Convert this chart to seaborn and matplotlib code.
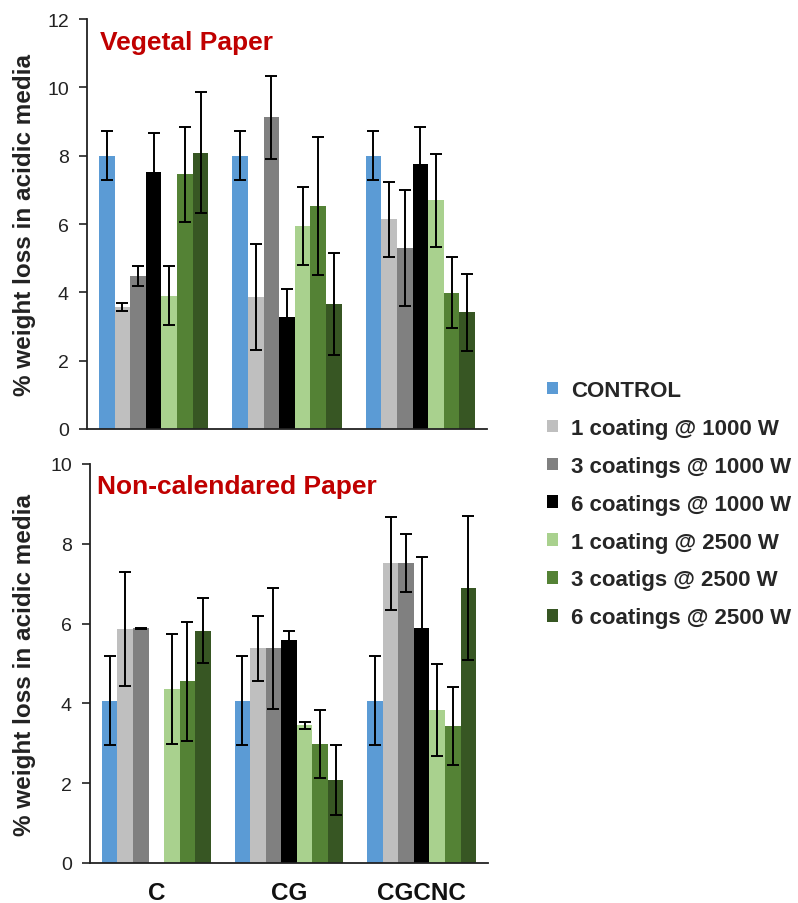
import numpy as np
import pandas as pd
import matplotlib
matplotlib.use("Agg")
import matplotlib.pyplot as plt
from matplotlib.patches import Patch
from matplotlib.container import BarContainer
import seaborn as sns

# ---------------- data ----------------
categories = ["C", "CG", "CGCNC"]
series = ["CONTROL", "1 coating @ 1000 W", "3 coatings @ 1000 W", "6 coatings @ 1000 W",
          "1 coating @ 2500 W", "3 coatigs @ 2500 W", "6 coatings @ 2500 W"]
colors = ["#5B9BD5", "#BFBFBF", "#808080", "#000000", "#A9D18E", "#548235", "#375623"]

# Vegetal Paper (top)
veg_control = [8.00, 8.00, 8.00]
veg_c1_1000 = [3.56, 3.87, 6.14]
veg_c3_1000 = [4.48, 9.12, 5.30]
veg_c6_1000 = [7.51, 3.27, 7.75]
veg_c1_2500 = [3.90, 5.94, 6.69]
veg_c3_2500 = [7.45, 6.54, 3.99]
veg_c6_2500 = [8.09, 3.65, 3.41]
veg_control_err = [0.72, 0.72, 0.72]
veg_c1_1000_err = [0.12, 1.55, 1.10]
veg_c3_1000_err = [0.28, 1.22, 1.70]
veg_c6_1000_err = [1.15, 0.84, 1.09]
veg_c1_2500_err = [0.87, 1.14, 1.35]
veg_c3_2500_err = [1.40, 2.02, 1.04]
veg_c6_2500_err = [1.78, 1.49, 1.13]

# Non-calendared Paper (bottom)
nc_control = [4.07, 4.07, 4.07]
nc_c1_1000 = [5.87, 5.38, 7.51]
nc_c3_1000 = [5.88, 5.38, 7.51]
nc_c6_1000 = [np.nan, 5.59, 5.88]
nc_c1_2500 = [4.36, 3.45, 3.84]
nc_c3_2500 = [4.55, 2.98, 3.43]
nc_c6_2500 = [5.82, 2.08, 6.90]
nc_control_err = [1.11, 1.11, 1.11]
nc_c1_1000_err = [1.43, 0.81, 1.17]
nc_c3_1000_err = [0.01, 1.52, 0.73]
nc_c6_1000_err = [np.nan, 0.23, 1.79]
nc_c1_2500_err = [1.38, 0.08, 1.16]
nc_c3_2500_err = [1.50, 0.85, 0.97]
nc_c6_2500_err = [0.81, 0.88, 1.80]

veg_vals = [veg_control, veg_c1_1000, veg_c3_1000, veg_c6_1000, veg_c1_2500, veg_c3_2500, veg_c6_2500]
veg_errs = [veg_control_err, veg_c1_1000_err, veg_c3_1000_err, veg_c6_1000_err,
            veg_c1_2500_err, veg_c3_2500_err, veg_c6_2500_err]
nc_vals = [nc_control, nc_c1_1000, nc_c3_1000, nc_c6_1000, nc_c1_2500, nc_c3_2500, nc_c6_2500]
nc_errs = [nc_control_err, nc_c1_1000_err, nc_c3_1000_err, nc_c6_1000_err,
           nc_c1_2500_err, nc_c3_2500_err, nc_c6_2500_err]


def long_df(vals, errs):
    rows = []
    for s, v, e in zip(series, vals, errs):
        for c, vv, ee in zip(categories, v, e):
            rows.append({"cat": c, "series": s, "val": vv, "err": ee})
    return pd.DataFrame(rows)


# ---------------- style ----------------
sns.set_theme(style="white")
plt.rcParams["font.family"] = ["Liberation Sans", "DejaVu Sans"]

fig = plt.figure(figsize=(7.98, 9.04), dpi=100)
W, H = 798, 904
ax1 = fig.add_axes([87 / W, 1 - 430 / H, 400 / W, 410 / H])
ax2 = fig.add_axes([90 / W, 1 - 864 / H, 398 / W, 399 / H])

palette = dict(zip(series, colors))


def draw(ax, vals, errs, ymax, title, tx, show_x):
    df = long_df(vals, errs)
    sns.barplot(data=df, x="cat", y="val", hue="series", order=categories,
                hue_order=series, palette=palette, width=0.82, gap=0,
                errorbar=None, legend=False, ax=ax, linewidth=0, saturation=1)
    bar_conts = [c for c in ax.containers if isinstance(c, BarContainer)]
    col_rgb = [np.array(matplotlib.colors.to_rgb(c)) for c in colors]
    for cont in bar_conts:
        bars = [b for b in cont if np.isfinite(b.get_height())]
        if not bars:
            continue
        fc = np.array(bars[0].get_facecolor()[:3])
        si = int(np.argmin([np.abs(fc - cr).sum() for cr in col_rgb]))
        s = series[si]
        for bar in bars:
            h = bar.get_height()
            xc = bar.get_x() + bar.get_width() / 2
            ci = int(round(xc))
            e = df[(df.series == s) & (df.cat == categories[ci])]["err"].values[0]
            if np.isfinite(e):
                ax.errorbar(xc, h, yerr=e, fmt="none", ecolor="black",
                            elinewidth=1.4, capsize=4, capthick=1.4, zorder=5)
    ax.set_xlim(-0.5, 2.5)
    ax.set_ylim(0, ymax)
    ax.set_yticks(np.arange(0, ymax + 0.1, 2))
    ax.set_ylabel("% weight loss in acidic media", fontsize=17.5, fontweight="bold",
                  color="#222222")
    ax.set_xlabel("")
    for sp in ["top", "right"]:
        ax.spines[sp].set_visible(False)
    for sp in ["left", "bottom"]:
        ax.spines[sp].set_color("#222222")
        ax.spines[sp].set_linewidth(1.3)
    ax.tick_params(axis="y", left=True, length=6, width=1.2, color="#222222",
                   labelsize=14, pad=7, labelcolor="#222222")
    if show_x:
        ax.tick_params(axis="x", bottom=False, length=0, pad=13, labelsize=17.5)
        for t in ax.get_xticklabels():
            t.set_fontweight("bold")
            t.set_color("#111111")
    else:
        ax.tick_params(axis="x", bottom=False, labelbottom=False)
    ax.text(tx, 0.945, title, transform=ax.transAxes, color="#C00000",
            fontsize=19, fontweight="bold", va="center", ha="left")


draw(ax1, veg_vals, veg_errs, 12, "Vegetal Paper", 0.033, False)
draw(ax2, nc_vals, nc_errs, 10, "Non-calendared Paper", 0.018, True)
ax1.yaxis.set_label_coords(-0.127, 0.5)
ax2.yaxis.set_label_coords(-0.135, 0.5)

handles = [Patch(facecolor=c, edgecolor="none", label=s) for s, c in zip(series, colors)]
fig.legend(handles=handles, loc="upper left", bbox_to_anchor=(547 / W, 1 - 381 / H),
           frameon=False, prop={"weight": "bold", "size": 16},
           handlelength=0.5, handleheight=0.5, handletextpad=0.6,
           labelspacing=0.76, borderpad=0, borderaxespad=0)

fig.savefig("out.png", dpi=100)
